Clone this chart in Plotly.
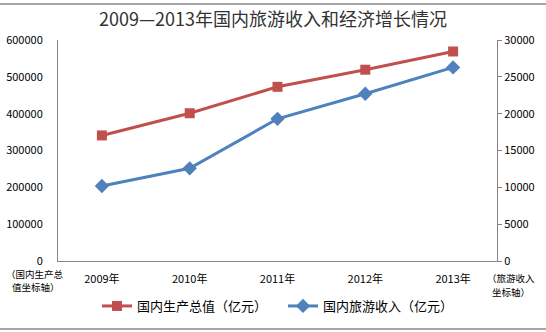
import plotly.graph_objects as go

years = ["2009年", "2010年", "2011年", "2012年", "2013年"]
gdp = [340903, 401202, 472882, 519322, 568845]
tourism = [10184, 12580, 19305, 22706, 26276]
left_ticks = [0, 100000, 200000, 300000, 400000, 500000, 600000]
right_ticks = [0, 5000, 10000, 15000, 20000, 25000, 30000]

FONT = "Noto Sans CJK SC, Liberation Sans, sans-serif"
W, H = 546, 332
L, R, T, B = 58, 49, 40, 71

pw = W - L - R
ph = H - T - B
def px(x):
    return (x - L) / pw
def py(y):
    return (H - B - y) / ph

fig = go.Figure()
fig.add_trace(go.Scatter(
    x=years, y=gdp, name="国内生产总值（亿元）", mode="lines+markers",
    line=dict(color="#C0504D", width=3),
    marker=dict(symbol="square", size=10, color="#C0504D"),
    yaxis="y", legend="legend"))
fig.add_trace(go.Scatter(
    x=years, y=tourism, name="国内旅游收入（亿元）", mode="lines+markers",
    line=dict(color="#4F81BD", width=3),
    marker=dict(symbol="diamond", size=11, color="#4F81BD"),
    yaxis="y2", legend="legend2"))

axis_col = "#868686"
leg_common = dict(orientation="h", xanchor="left", yanchor="middle",
                  font=dict(size=13), itemwidth=30,
                  bgcolor="rgba(0,0,0,0)")

fig.update_layout(
    width=W, height=H,
    margin=dict(l=L, r=R, t=T, b=B, pad=0, autoexpand=False),
    paper_bgcolor="white", plot_bgcolor="white",
    font=dict(family=FONT, size=11, color="black"),
    title=dict(text="2009—2013年国内旅游收入和经济增长情况",
               x=0.5, xanchor="center", y=1 - 20 / H, yanchor="middle",
               font=dict(size=18, color="#333333")),
    xaxis=dict(type="category", range=[-0.5, 4.5], showgrid=False,
               showline=True, linecolor=axis_col, linewidth=1,
               ticks="", tickfont=dict(size=11), ticklabelstandoff=8),
    yaxis=dict(range=[0, 600000], tickvals=left_ticks, showgrid=False,
               zeroline=False, showline=True, linecolor=axis_col, linewidth=1,
               ticks="", tickfont=dict(size=11), ticklabelstandoff=12,
               tickformat="d"),
    yaxis2=dict(range=[0, 30000], tickvals=right_ticks, overlaying="y",
                side="right", showgrid=False, zeroline=False, showline=True,
                linecolor=axis_col, linewidth=1, ticks="outside", ticklen=4,
                tickcolor=axis_col, tickfont=dict(size=11), tickformat="d"),
    legend=dict(x=px(97), y=py(306), **leg_common),
    legend2=dict(x=px(283), y=py(306), **leg_common),
    showlegend=True,
)

for txt, xx, yy in [("（国内生产总", 4, 274), ("值坐标轴）", 10, 287)]:
    fig.add_annotation(text=txt, xref="paper", yref="paper",
                       x=px(xx), y=py(yy), xanchor="left", yanchor="middle",
                       showarrow=False, font=dict(size=9.5, color="black"))
for txt, yy in [("（旅游收入", 278), ("坐标轴）", 292)]:
    fig.add_annotation(text=txt, xref="paper", yref="paper",
                       x=px(511), y=py(yy), xanchor="center", yanchor="middle",
                       showarrow=False, font=dict(size=9.5, color="black"))

for yy in (4, 329):
    fig.add_shape(type="line", xref="paper", yref="paper",
                  x0=px(0), x1=px(W), y0=py(yy), y1=py(yy),
                  line=dict(color="#888888", width=1.5))

fig.write_html("out.html")
